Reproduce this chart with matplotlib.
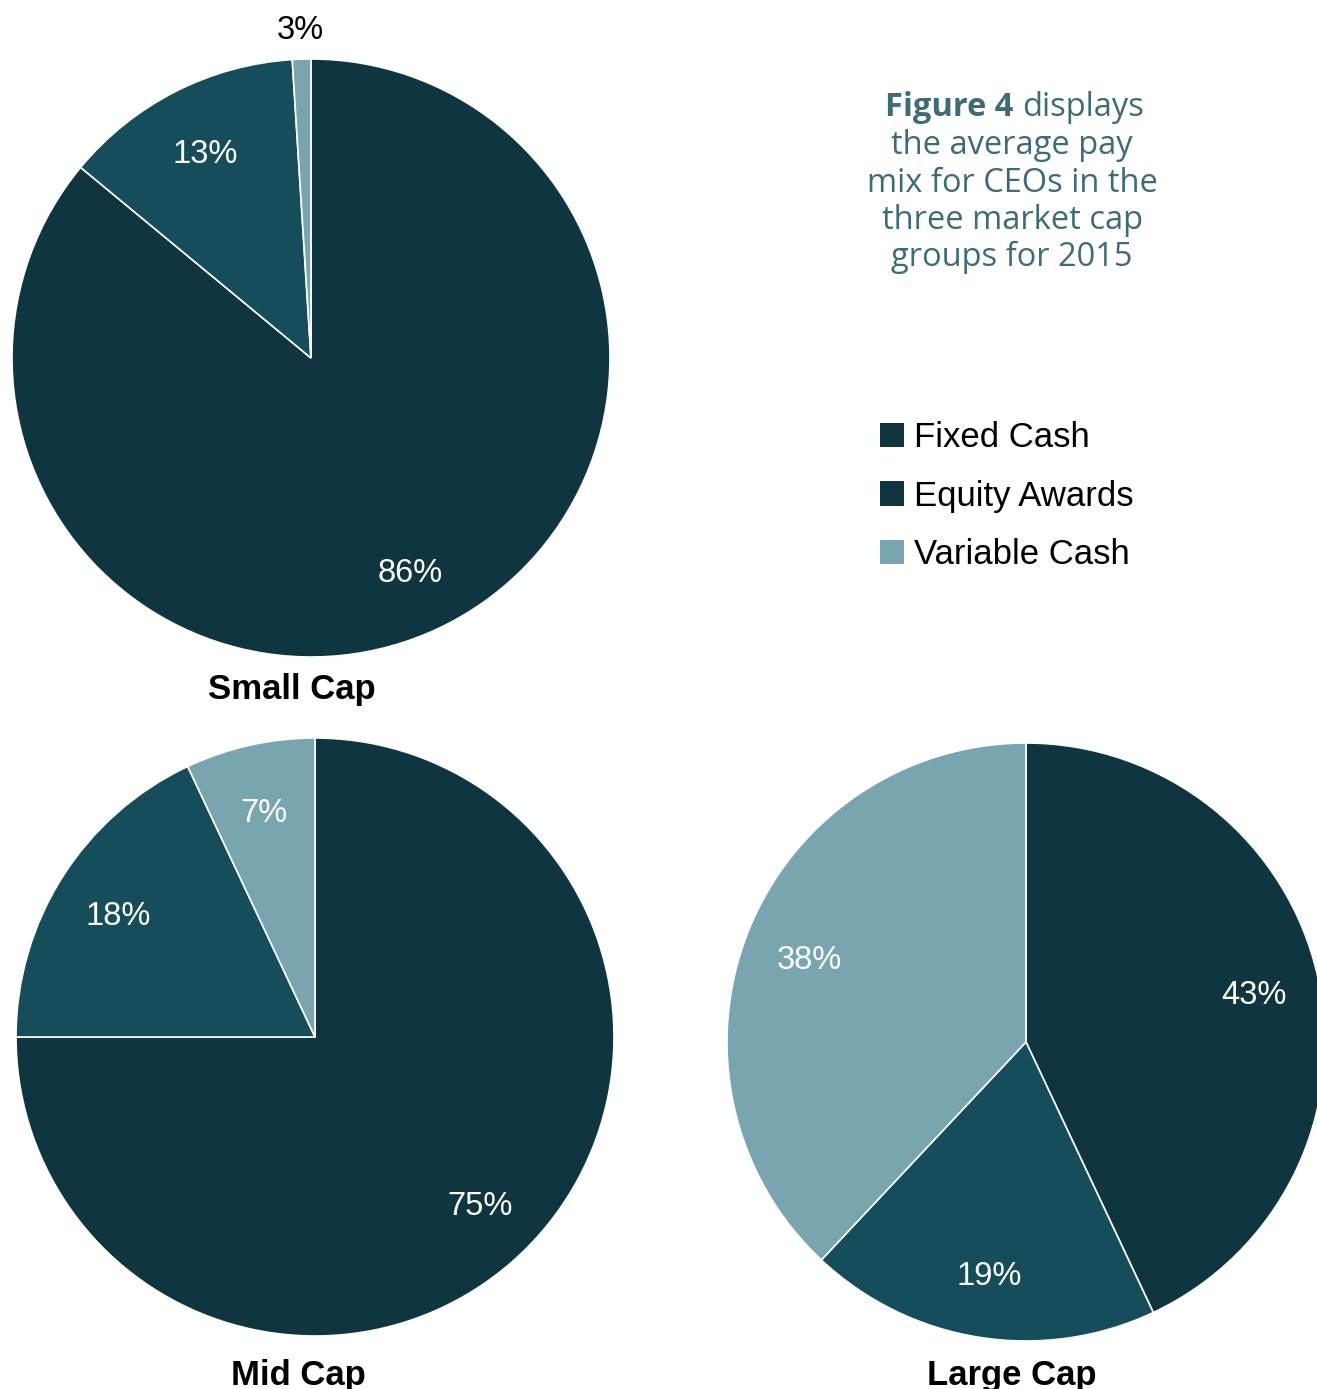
import numpy as np
import matplotlib.pyplot as plt
from matplotlib.patches import Patch

W, H = 1317, 1389

# pay mix per group, clockwise from 12 o'clock: Equity Awards, Fixed Cash, Variable Cash
groups = ["Small Cap", "Mid Cap", "Large Cap"]
small_vals = [86, 13, 1]
mid_vals = [75, 18, 7]
large_vals = [43, 19, 38]
small_labels = ["86%", "13%", "3%"]
mid_labels = ["75%", "18%", "7%"]
large_labels = ["43%", "19%", "38%"]

slice_colors = ["#0e3540", "#164d5a", "#79a5b0"]
legend_names = ["Fixed Cash", "Equity Awards", "Variable Cash"]
legend_colors = ["#10353f", "#0e3540", "#79a5b0"]
text_teal = "#3d6b77"

plt.rcParams["font.family"] = ["Liberation Sans", "DejaVu Sans"]

fig = plt.figure(figsize=(W / 100, H / 100), dpi=100)


def pie_at(cx, cy, r, vals, labels, title, title_x, title_y, outside=()):
    ax = fig.add_axes([(cx - r) / W, (H - cy - r) / H, 2 * r / W, 2 * r / H])
    wedges, _ = ax.pie(vals, colors=slice_colors, startangle=90, counterclock=False,
                       wedgeprops=dict(edgecolor="white", linewidth=1.2))
    ax.set_xlim(-1, 1)
    ax.set_ylim(-1, 1)
    ax.set_aspect("equal")
    ax.axis("off")
    for i, (w, lab) in enumerate(zip(wedges, labels)):
        ang = np.deg2rad((w.theta1 + w.theta2) / 2)
        if i in outside:
            d, col = 1.11, "black"
        else:
            d, col = 0.78, "white"
        ax.text(d * np.cos(ang), d * np.sin(ang) - 0.015, lab, ha="center", va="center",
                fontsize=23.5, color=col, clip_on=False)
    fig.text(title_x / W, 1 - title_y / H, title, ha="center", va="center",
             fontsize=25, fontweight="bold")
    return ax


pie_at(311, 358, 299, small_vals, small_labels, groups[0], 292, 689, outside=(2,))
pie_at(315, 1037, 299, mid_vals, mid_labels, groups[1], 298, 1375)
pie_at(1026, 1042, 299, large_vals, large_labels, groups[2], 1012, 1375)

# description text
desc_font = ["Open Sans", "DejaVu Sans"]
fig.text(1013 / W, 1 - 108 / H, "Figure 4", ha="right", va="center", fontsize=23.5,
         fontweight="bold", color=text_teal, family=desc_font)
fig.text(1022 / W, 1 - 108 / H, "displays", ha="left", va="center", fontsize=23.5,
         color=text_teal, family=desc_font)
desc_lines = ["the average pay", "mix for CEOs in the", "three market cap", "groups for 2015"]
for i, line in enumerate(desc_lines):
    fig.text(1012 / W, 1 - (146 + i * 37.2) / H, line, ha="center", va="center",
             fontsize=23.5, color=text_teal, family=desc_font)

handles = [Patch(facecolor=c, edgecolor="none") for c in legend_colors]
fig.legend(handles, legend_names, loc="upper left", bbox_to_anchor=(880 / W, 1 - 421 / H),
           frameon=False, fontsize=25, handlelength=0.7, handleheight=0.7,
           handletextpad=0.28, labelspacing=0.74, borderpad=0, borderaxespad=0)

fig.savefig("out.png", dpi=100)
